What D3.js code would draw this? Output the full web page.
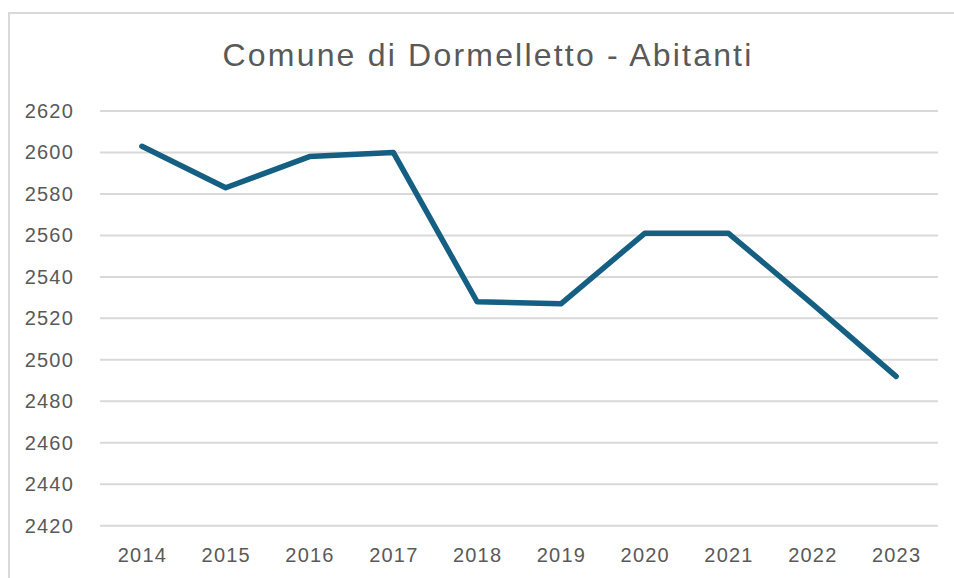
<!DOCTYPE html>
<html>
<head>
<meta charset="utf-8">
<script src="https://cdn.jsdelivr.net/npm/d3@7"></script>
<style>
  body { margin: 0; background: #fff; }
  svg { display: block; }
</style>
</head>
<body>
<svg width="954" height="578"></svg>
<script>
// data
var years = ['2014','2015','2016','2017','2018','2019','2020','2021','2022','2023'];
var abitanti = [2603, 2583, 2598, 2600, 2528, 2527, 2561, 2561, 2527, 2492];
var yTicks = [2420, 2440, 2460, 2480, 2500, 2520, 2540, 2560, 2580, 2600, 2620];
var title = 'Comune di Dormelletto - Abitanti';

var svg = d3.select('svg');

// chart frame (top and left edges visible)
svg.append('path')
    .attr('d', 'M9,580 L9,13 L960,13')
    .attr('fill', 'none')
    .attr('stroke', '#d9d9d9')
    .attr('stroke-width', 2);

var scaleX = d3.scalePoint().domain(years).range([100, 938]).padding(0.5);
var scaleY = d3.scaleLinear().domain([2420, 2620]).range([525.7, 111]);

// gridlines
svg.append('g')
    .selectAll('line')
    .data(yTicks)
    .enter()
    .append('line')
    .attr('x1', 100)
    .attr('x2', 938)
    .attr('y1', function (d) { return scaleY(d); })
    .attr('y2', function (d) { return scaleY(d); })
    .attr('stroke', '#d9d9d9')
    .attr('stroke-width', 2);

// y axis labels
var yAxis = svg.append('g')
    .attr('transform', 'translate(100,0)')
    .call(d3.axisLeft(scaleY).tickValues(yTicks).tickSize(0).tickPadding(26).tickFormat(d3.format('d')));
yAxis.select('.domain').remove();
yAxis.selectAll('text')
    .attr('fill', '#595959')
    .attr('font-family', 'Liberation Sans, Arial, sans-serif')
    .attr('font-size', 20)
    .attr('letter-spacing', 1.2);

// x axis labels
var xAxis = svg.append('g')
    .attr('transform', 'translate(0,525.7)')
    .call(d3.axisBottom(scaleX).tickSize(0).tickPadding(22));
xAxis.select('.domain').remove();
xAxis.selectAll('text')
    .attr('fill', '#595959')
    .attr('font-family', 'Liberation Sans, Arial, sans-serif')
    .attr('font-size', 20)
    .attr('letter-spacing', 1.2);

// line
var line = d3.line()
    .x(function (d, i) { return scaleX(years[i]); })
    .y(function (d) { return scaleY(d); });

svg.append('path')
    .datum(abitanti)
    .attr('d', line)
    .attr('fill', 'none')
    .attr('stroke', '#156082')
    .attr('stroke-width', 5.5)
    .attr('stroke-linejoin', 'round')
    .attr('stroke-linecap', 'round');

// title
svg.append('text')
    .attr('x', 488)
    .attr('y', 66)
    .attr('text-anchor', 'middle')
    .attr('fill', '#595959')
    .attr('font-family', 'Liberation Sans, Arial, sans-serif')
    .attr('font-size', 32)
    .attr('letter-spacing', 2.2)
    .text(title);
</script>
</body>
</html>
